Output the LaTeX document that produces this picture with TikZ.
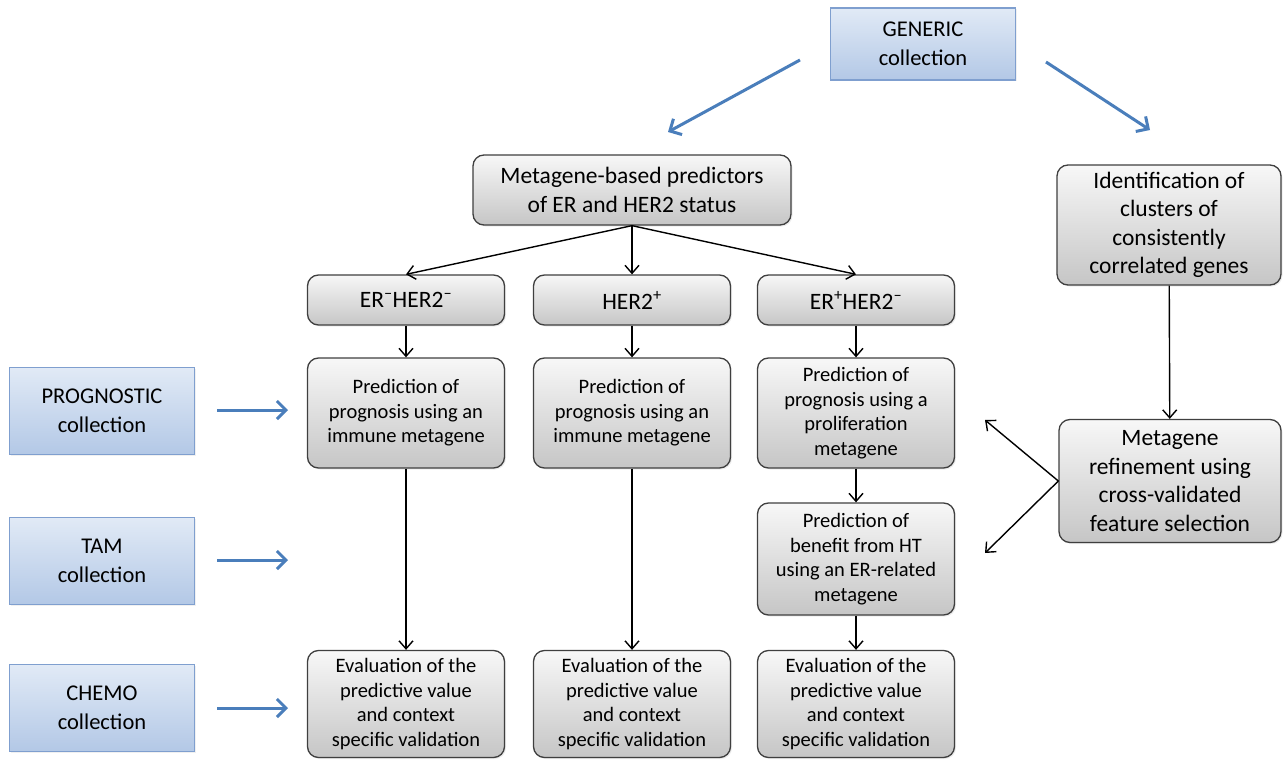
\documentclass[tikz,border=0pt]{standalone}
\usepackage{fontspec}
\setmainfont{Carlito}
\usetikzlibrary{positioning,arrows.meta,shadows}

\definecolor{boxline}{HTML}{3F3F3F}
\definecolor{bluefilla}{HTML}{E1EAF6}
\definecolor{bluefillb}{HTML}{B3C8E6}
\definecolor{blueline}{HTML}{7F9FCF}
\definecolor{bluearrow}{HTML}{4A7EBB}

\begin{document}
\begin{tikzpicture}[x=1pt, y=-1pt,
  gbox/.style={draw=boxline, line width=1.3pt, rounded corners=11pt,
               top color=gray!6, bottom color=gray!45, align=center, inner sep=2pt,
               drop shadow={opacity=0.15, shadow xshift=1.5pt, shadow yshift=-1.5pt}},
  sbig/.style={gbox, font=\fontsize{23.5}{28.5}\selectfont},
  ssmall/.style={gbox, minimum width=197pt, font=\fontsize{20.5}{24.5}\selectfont},
  scoll/.style={draw=blueline, line width=1.2pt, top color=bluefilla, bottom color=bluefillb,
               minimum width=185pt, minimum height=87pt, align=center,
               font=\fontsize{22.5}{29}\selectfont,
               drop shadow={opacity=0.12, shadow xshift=1.5pt, shadow yshift=-1.5pt}},
  arr/.style={-{Straight Barb[length=8pt,width=14pt]}, line width=1.4pt},
  barr/.style={-{Straight Barb[length=9pt,width=18pt]}, line width=3pt, bluearrow}
]
\useasboundingbox (0,0) rectangle (1286,760);

%% ── collections ─────────────────────────────────────────────────────────
\node[scoll, minimum height=72pt] (generic) at (923,44)  {GENERIC\\collection};
\node[scoll] (prog)    at (102,411) {PROGNOSTIC\\collection};
\node[scoll] (tam)     at (102,561) {TAM\\collection};
\node[scoll] (chemo)   at (102,708) {CHEMO\\collection};

%% ── main tree ───────────────────────────────────────────────────────────
\node[sbig, minimum width=318pt, minimum height=70pt] (mbp) at (632,190)
     {Metagene-based predictors\\of ER and HER2 status};

\node[sbig, minimum width=197pt, minimum height=50pt] (erneg) at (406,300)
     {ER\textsuperscript{–}HER2\textsuperscript{–}};
\node[sbig, minimum width=197pt, minimum height=50pt] (herpos) at (632,300)
     {HER2\textsuperscript{+}};
\node[sbig, minimum width=197pt, minimum height=50pt] (erpos) at (856,300)
     {ER\textsuperscript{+}HER2\textsuperscript{–}};

% predictions
\node[ssmall, minimum height=110pt] (pimm1) at (406,413)
     {Prediction of\\prognosis using an\\immune metagene};
\node[ssmall, minimum height=110pt] (pimm2) at (632,413)
     {Prediction of\\prognosis using an\\immune metagene};
\node[ssmall, minimum height=110pt] (pprol) at (856,413)
     {Prediction of\\prognosis using a\\proliferation\\metagene};
\node[ssmall, minimum height=112pt] (pht)   at (856,559)
     {Prediction of\\benefit from HT\\using an ER-related\\metagene};

% evaluations
\node[ssmall, minimum height=107pt] (eval1) at (406,704)
     {Evaluation of the\\predictive value\\and context\\specific validation};
\node[ssmall, minimum height=107pt] (eval2) at (632,704)
     {Evaluation of the\\predictive value\\and context\\specific validation};
\node[ssmall, minimum height=107pt] (eval3) at (856,704)
     {Evaluation of the\\predictive value\\and context\\specific validation};

%% ── right branch ────────────────────────────────────────────────────────
\node[sbig, minimum width=224pt, minimum height=120pt] (ident)  at (1169,225)
     {Identification of\\clusters of\\consistently\\correlated genes};
\node[sbig, minimum width=222pt, minimum height=123pt] (refine) at (1170,481)
     {Metagene\\refinement using\\cross-validated\\feature selection};

%% ── free arrow ends ─────────────────────────────────────────────────────
\coordinate (gl0) at (800,60);   \coordinate (gl1) at (668,132);
\coordinate (gr0) at (1046,62);  \coordinate (gr1) at (1150,130);
\coordinate (pa)  at (217,410);  \coordinate (pb)  at (288,410);
\coordinate (ta)  at (217,560);  \coordinate (tb)  at (288,560);
\coordinate (ca)  at (217,708);  \coordinate (cb)  at (288,708);
\coordinate (rup) at (985,420);  \coordinate (rdn) at (985,553);

%% ── edges ───────────────────────────────────────────────────────────────
\draw[barr] (gl0) -- (gl1);
\draw[barr] (gr0) -- (gr1);
\draw[barr] (pa) -- (pb);
\draw[barr] (ta) -- (tb);
\draw[barr] (ca) -- (cb);

\draw[arr] (mbp.south) -- (erneg.north);
\draw[arr] (mbp.south) -- (herpos.north);
\draw[arr] (mbp.south) -- (erpos.north);

\draw[arr] (erneg)  -- (pimm1);
\draw[arr] (herpos) -- (pimm2);
\draw[arr] (erpos)  -- (pprol);
\draw[arr] (pimm1)  -- (eval1);
\draw[arr] (pimm2)  -- (eval2);
\draw[arr] (pprol)  -- (pht);
\draw[arr] (pht)    -- (eval3);

\draw[arr] (ident) -- (refine);
\draw[arr] (refine.west) -- (rup);
\draw[arr] (refine.west) -- (rdn);

\end{tikzpicture}
\end{document}
